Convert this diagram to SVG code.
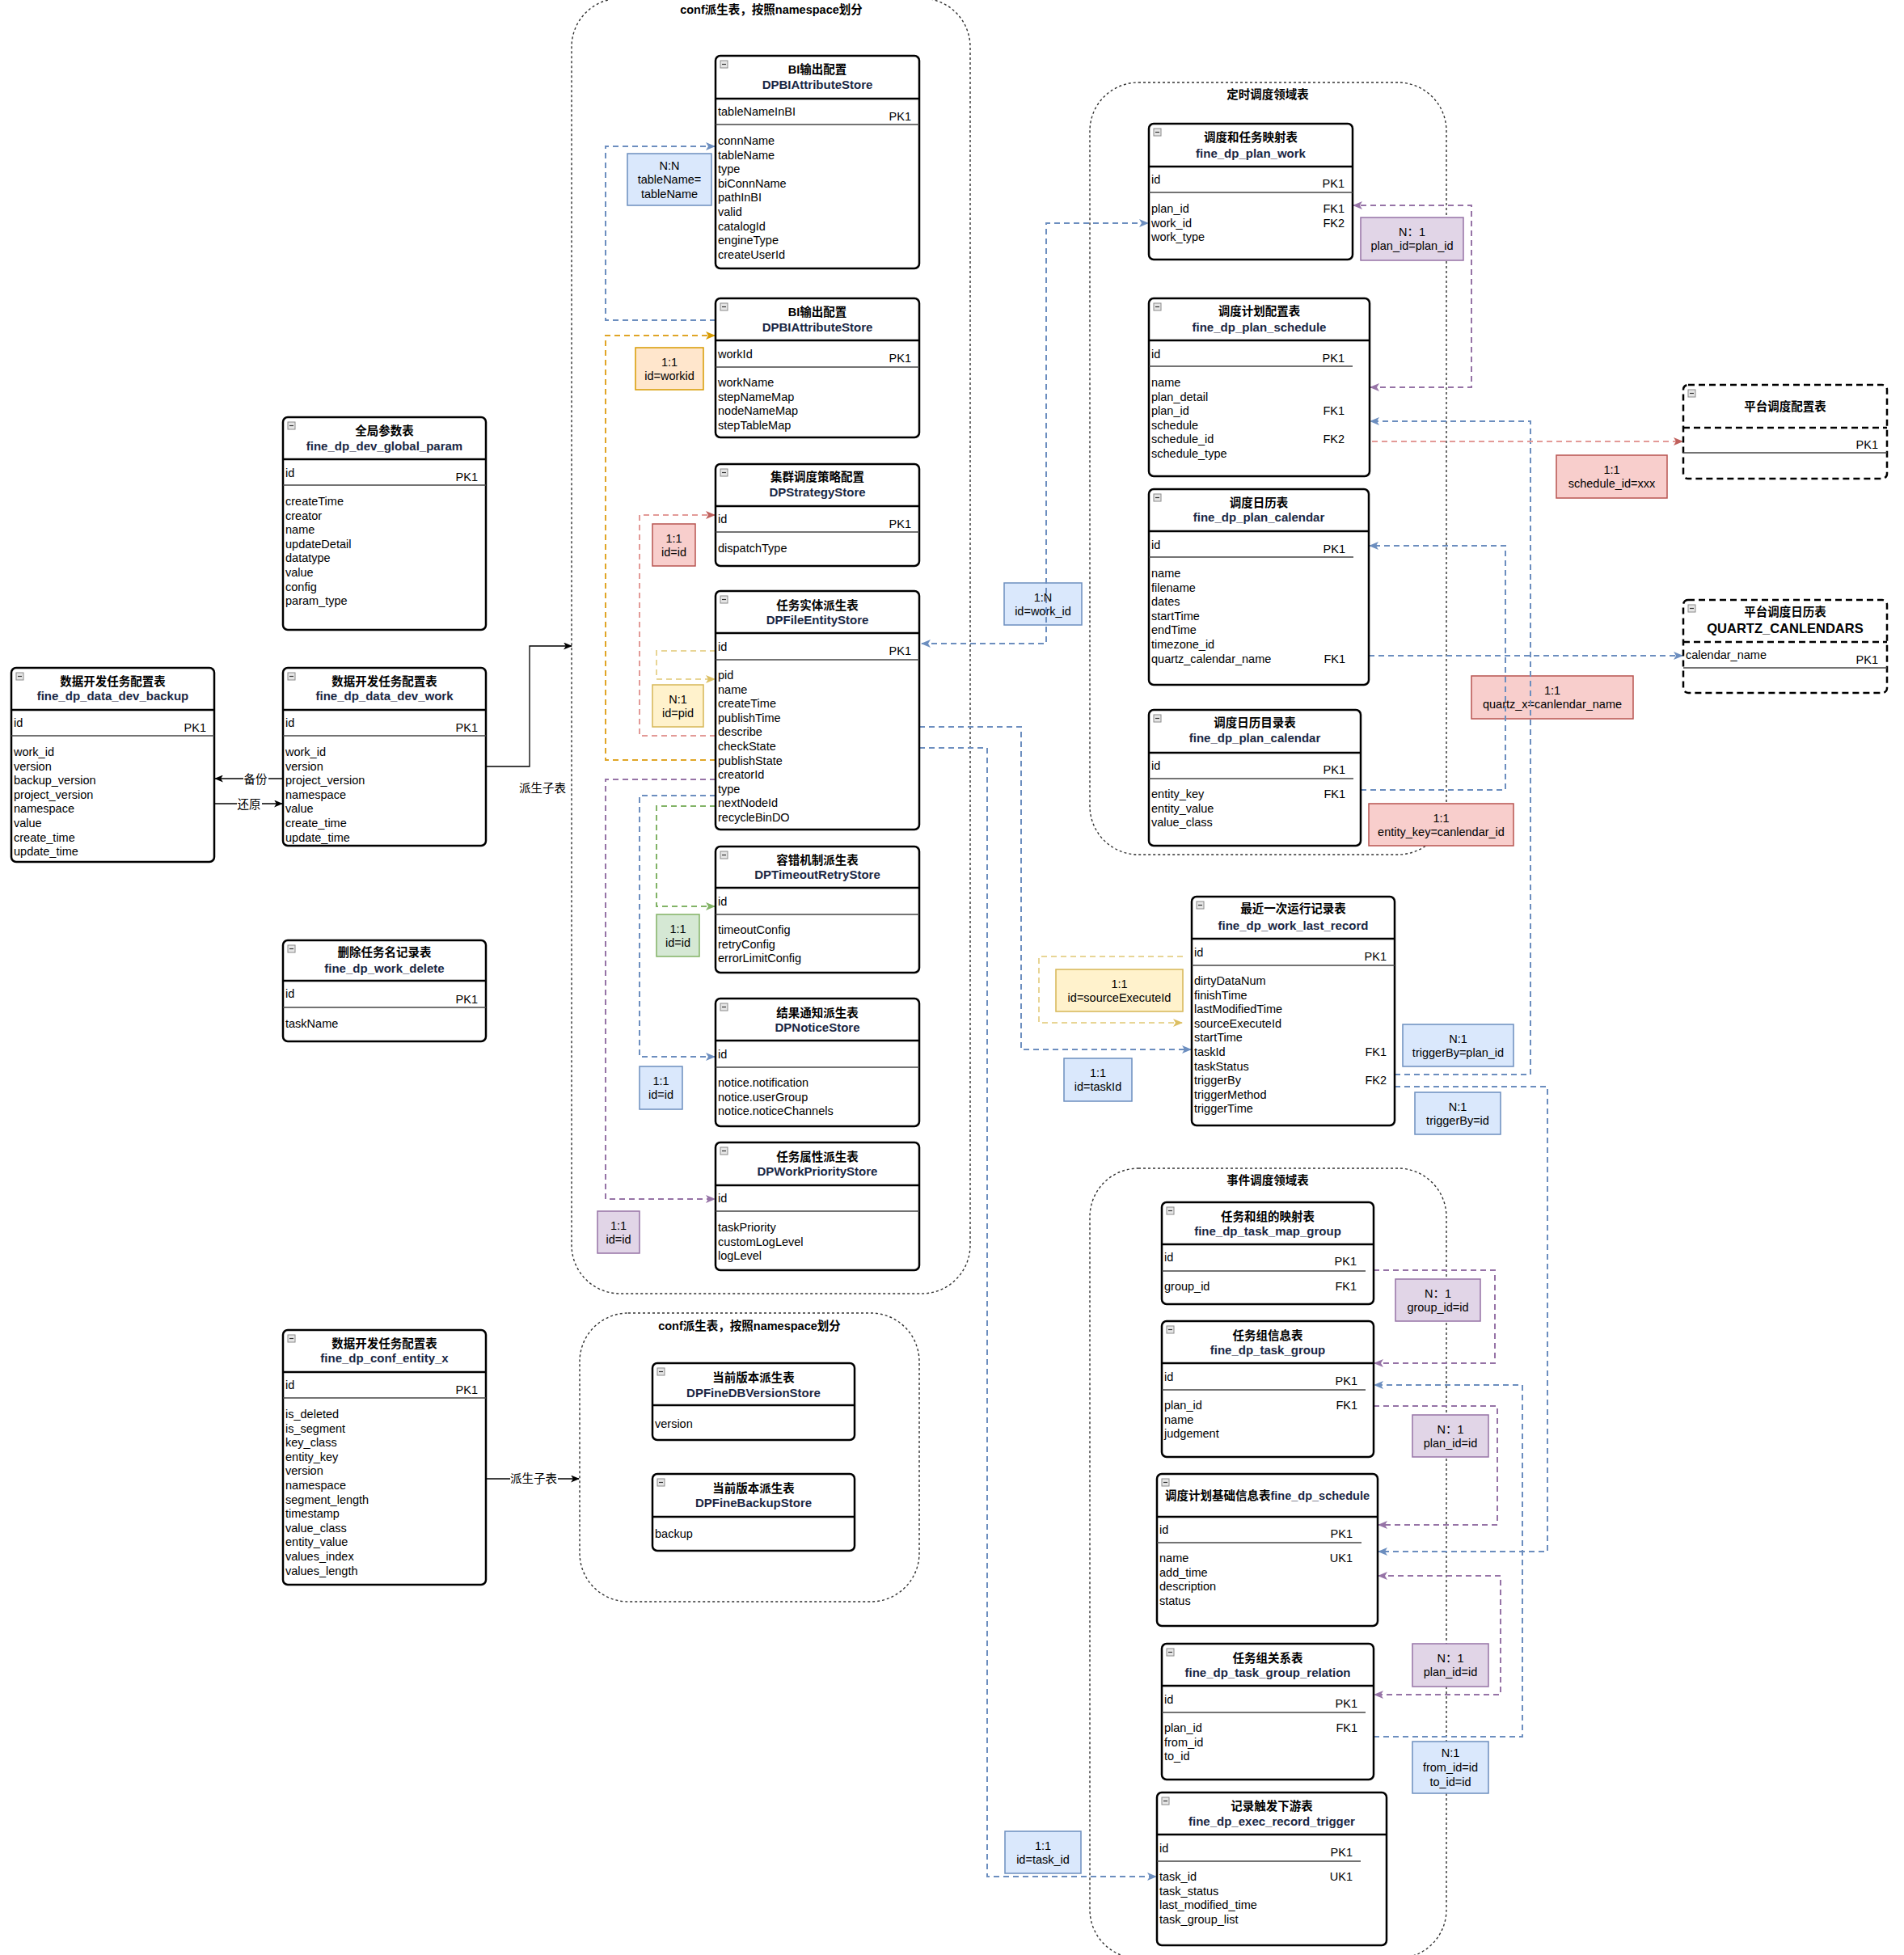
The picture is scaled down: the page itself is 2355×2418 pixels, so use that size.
<svg xmlns="http://www.w3.org/2000/svg" xmlns:xlink="http://www.w3.org/1999/xlink" width="2355" height="2418" viewBox="0 0 2355 2418">
<style>
text{font-family:'Liberation Sans','Noto Sans CJK SC',sans-serif;font-size:14.5px;fill:#000}
.tt{font-weight:bold;text-anchor:middle}
.te{font-weight:bold;text-anchor:middle;fill:#1a2744;font-size:15px}
.k{text-anchor:end}
.c{text-anchor:middle}
.tb{fill:#fff;stroke:#000;stroke-width:2.5}
.tbd{fill:#fff;stroke:#000;stroke-width:2.5;stroke-dasharray:8 5}
.hs{stroke:#000;stroke-width:2.5}
.hsd{stroke:#000;stroke-width:2.5;stroke-dasharray:8 5}
.is{stroke:#444;stroke-width:1.5}
.ct{fill:none;stroke:#333;stroke-width:1.4;stroke-dasharray:3 3}
.e{fill:none;stroke-width:2;stroke-dasharray:7 5}
.eb{stroke:#6c8ebf}.er{stroke:#e39a97}.eo{stroke:#e0a526}.ey{stroke:#e8d595}.ep{stroke:#9673a6}.eg{stroke:#82b366}
.ek{fill:none;stroke:#000;stroke-width:1.3}
.lB{fill:#dae8fc;stroke:#6c8ebf;stroke-width:1.5}
.lR{fill:#f8cecc;stroke:#b85450;stroke-width:1.5}
.lO{fill:#ffe6cc;stroke:#d79b00;stroke-width:1.5}
.lY{fill:#fff2cc;stroke:#d6b656;stroke-width:1.5}
.lP{fill:#e1d5e7;stroke:#9673a6;stroke-width:1.5}
.lG{fill:#d5e8d4;stroke:#82b366;stroke-width:1.5}
.wb{fill:#fff}
</style>
<defs>
<g id="ic"><rect x="0" y="0" width="9" height="9" fill="#e6e6e6" stroke="#8a8a8a" stroke-width="1"/><line x1="2" y1="4.5" x2="7" y2="4.5" stroke="#333" stroke-width="1.2"/></g>
<marker id="aB" viewBox="0 0 12 10" refX="11" refY="5" markerWidth="12" markerHeight="10" markerUnits="userSpaceOnUse" orient="auto-start-reverse"><path d="M0,0 L12,5 L0,10 L3,5 Z" fill="#6c8ebf"/></marker>
<marker id="aR" viewBox="0 0 12 10" refX="11" refY="5" markerWidth="12" markerHeight="10" markerUnits="userSpaceOnUse" orient="auto-start-reverse"><path d="M0,0 L12,5 L0,10 L3,5 Z" fill="#c0605c"/></marker>
<marker id="aO" viewBox="0 0 12 10" refX="11" refY="5" markerWidth="12" markerHeight="10" markerUnits="userSpaceOnUse" orient="auto-start-reverse"><path d="M0,0 L12,5 L0,10 L3,5 Z" fill="#d79b00"/></marker>
<marker id="aY" viewBox="0 0 12 10" refX="11" refY="5" markerWidth="12" markerHeight="10" markerUnits="userSpaceOnUse" orient="auto-start-reverse"><path d="M0,0 L12,5 L0,10 L3,5 Z" fill="#dcbf63"/></marker>
<marker id="aP" viewBox="0 0 12 10" refX="11" refY="5" markerWidth="12" markerHeight="10" markerUnits="userSpaceOnUse" orient="auto-start-reverse"><path d="M0,0 L12,5 L0,10 L3,5 Z" fill="#9673a6"/></marker>
<marker id="aG" viewBox="0 0 12 10" refX="11" refY="5" markerWidth="12" markerHeight="10" markerUnits="userSpaceOnUse" orient="auto-start-reverse"><path d="M0,0 L12,5 L0,10 L3,5 Z" fill="#82b366"/></marker>
<marker id="aK" viewBox="0 0 12 10" refX="11" refY="5" markerWidth="11" markerHeight="9" markerUnits="userSpaceOnUse" orient="auto-start-reverse"><path d="M0,0 L12,5 L0,10 L3,5 Z" fill="#000"/></marker>
</defs>
<rect x="0" y="0" width="2355" height="2418" fill="#fff"/>

<g id="containers">
<rect class="ct" x="707" y="-2" width="493" height="1602" rx="60"/>
<text class="tt" x="954" y="17">conf派生表，按照namespace划分</text>
<rect class="ct" x="717" y="1624" width="420" height="357" rx="60"/>
<text class="tt" x="927" y="1645">conf派生表，按照namespace划分</text>
<rect class="ct" x="1348" y="102" width="441" height="955" rx="60"/>
<text class="tt" x="1568" y="122">定时调度领域表</text>
<rect class="ct" x="1348" y="1445" width="441" height="977" rx="60"/>
<text class="tt" x="1568" y="1465">事件调度领域表</text>
</g>

<g id="labels">
<rect class="lB" x="776" y="190" width="104" height="64"/>
<text class="c" x="828" y="210">N:N</text><text class="c" x="828" y="227">tableName=</text><text class="c" x="828" y="245">tableName</text>
<rect class="lO" x="786" y="430" width="84" height="52"/>
<text class="c" x="828" y="453">1:1</text><text class="c" x="828" y="470">id=workid</text>
<rect class="lR" x="807" y="648" width="53" height="52"/>
<text class="c" x="833.5" y="671">1:1</text><text class="c" x="833.5" y="688">id=id</text>
<rect class="lY" x="807" y="847" width="63" height="52"/>
<text class="c" x="838.5" y="870">N:1</text><text class="c" x="838.5" y="887">id=pid</text>
<rect class="lG" x="812" y="1131" width="53" height="52"/>
<text class="c" x="838.5" y="1154">1:1</text><text class="c" x="838.5" y="1171">id=id</text>
<rect class="lB" x="791" y="1319" width="53" height="53"/>
<text class="c" x="817.5" y="1342">1:1</text><text class="c" x="817.5" y="1359">id=id</text>
<rect class="lP" x="739" y="1498" width="52" height="52"/>
<text class="c" x="765" y="1521">1:1</text><text class="c" x="765" y="1538">id=id</text>
<rect class="lB" x="1242" y="721" width="96" height="52"/>
<text class="c" x="1290" y="744">1:N</text><text class="c" x="1290" y="761">id=work_id</text>
<rect class="lP" x="1683" y="269" width="127" height="53"/>
<text class="c" x="1746.5" y="292">N：1</text><text class="c" x="1746.5" y="309">plan_id=plan_id</text>
<rect class="lR" x="1925" y="563" width="137" height="53"/>
<text class="c" x="1993.5" y="586">1:1</text><text class="c" x="1993.5" y="603">schedule_id=xxx</text>
<rect class="lR" x="1820" y="836" width="200" height="53"/>
<text class="c" x="1920" y="859">1:1</text><text class="c" x="1920" y="876">quartz_x=canlendar_name</text>
<rect class="lR" x="1693" y="994" width="179" height="52"/>
<text class="c" x="1782.5" y="1017">1:1</text><text class="c" x="1782.5" y="1034">entity_key=canlendar_id</text>
<rect class="lY" x="1306" y="1199" width="157" height="52"/>
<text class="c" x="1384.5" y="1222">1:1</text><text class="c" x="1384.5" y="1239">id=sourceExecuteId</text>
<rect class="lB" x="1316" y="1309" width="84" height="53"/>
<text class="c" x="1358" y="1332">1:1</text><text class="c" x="1358" y="1349">id=taskId</text>
<rect class="lB" x="1735" y="1267" width="137" height="52"/>
<text class="c" x="1803.5" y="1290">N:1</text><text class="c" x="1803.5" y="1307">triggerBy=plan_id</text>
<rect class="lB" x="1750" y="1351" width="106" height="52"/>
<text class="c" x="1803" y="1374">N:1</text><text class="c" x="1803" y="1391">triggerBy=id</text>
<rect class="lP" x="1726" y="1582" width="105" height="52"/>
<text class="c" x="1778.5" y="1605">N：1</text><text class="c" x="1778.5" y="1622">group_id=id</text>
<rect class="lP" x="1747" y="1750" width="94" height="52"/>
<text class="c" x="1794" y="1773">N：1</text><text class="c" x="1794" y="1790">plan_id=id</text>
<rect class="lP" x="1747" y="2033" width="94" height="53"/>
<text class="c" x="1794" y="2056">N：1</text><text class="c" x="1794" y="2073">plan_id=id</text>
<rect class="lB" x="1747" y="2154" width="94" height="64"/>
<text class="c" x="1794" y="2173">N:1</text><text class="c" x="1794" y="2191">from_id=id</text><text class="c" x="1794" y="2209">to_id=id</text>
<rect class="lB" x="1243" y="2265" width="94" height="52"/>
<text class="c" x="1290" y="2288">1:1</text><text class="c" x="1290" y="2305">id=task_id</text>
</g>

<g id="connectors">
<path class="e eb" d="M885,396 H749 V181 H884" marker-end="url(#aB)"/>
<path class="e eo" d="M885,940 H749 V415 H884" marker-end="url(#aO)"/>
<path class="e er" d="M885,910 H791 V637 H884" marker-end="url(#aR)"/>
<path class="e ey" d="M885,805 H812 V840 H884" marker-end="url(#aY)"/>
<path class="e ep" d="M885,964 H749 V1483 H884" marker-end="url(#aP)"/>
<path class="e eb" d="M885,984 H791 V1307 H884" marker-end="url(#aB)"/>
<path class="e eg" d="M885,997 H812 V1121 H884" marker-end="url(#aG)"/>
<path class="e eb" d="M1140,796 H1294 V276 H1420" marker-start="url(#aB)" marker-end="url(#aB)"/>
<path class="e eb" d="M1137,899 H1263 V1298 H1473" marker-end="url(#aB)"/>
<path class="e eb" d="M1137,925 H1221 V2321 H1430" marker-end="url(#aB)"/>
<path class="e ep" d="M1695,479 H1820 V254 H1674" marker-start="url(#aP)" marker-end="url(#aP)"/>
<path class="e eb" d="M1725,1329 H1893 V521 H1695" marker-end="url(#aB)"/>
<path class="e er" d="M1673,546 H2081" marker-end="url(#aR)"/>
<path class="e eb" d="M1683,977 H1862 V675 H1694" marker-end="url(#aB)"/>
<path class="e eb" d="M1693,811 H2081" marker-end="url(#aB)"/>
<path class="e ey" d="M1463,1183 H1285 V1265 H1462" marker-end="url(#aY)"/>
<path class="e eb" d="M1725,1344 H1914 V1919 H1705" marker-end="url(#aB)"/>
<path class="e ep" d="M1699,1571 H1849 V1686 H1700" marker-end="url(#aP)"/>
<path class="e eb" d="M1699,2148 H1883 V1713 H1700" marker-end="url(#aB)"/>
<path class="e ep" d="M1699,1739 H1852 V1886 H1705" marker-end="url(#aP)"/>
<path class="e ep" d="M1705,1949 H1856 V2096 H1700" marker-start="url(#aP)" marker-end="url(#aP)"/>
<path class="ek" d="M350,963 H266" marker-end="url(#aK)"/>
<rect class="wb" x="301" y="954" width="31" height="18"/>
<text class="c" x="316" y="969">备份</text>
<path class="ek" d="M265,994 H349" marker-end="url(#aK)"/>
<rect class="wb" x="293" y="985" width="31" height="18"/>
<text class="c" x="308" y="1000">还原</text>
<path class="ek" d="M601,948 H655 V799 H707" marker-end="url(#aK)"/>
<text class="c" x="671" y="980">派生子表</text>
<path class="ek" d="M601,1829 H716" marker-end="url(#aK)"/>
<rect class="wb" x="631" y="1820" width="59" height="18"/>
<text class="c" x="660" y="1834">派生子表</text>
</g>

<g id="t_global_param">
<rect class="tb" x="350" y="516" width="251" height="263" rx="6"/>
<use href="#ic" x="356" y="522"/>
<text class="tt" x="475.5" y="538">全局参数表</text>
<text class="te" x="475.5" y="557">fine_dp_dev_global_param</text>
<line class="hs" x1="350" y1="568" x2="601" y2="568"/>
<text x="353" y="590">id</text><text class="k" x="591" y="595">PK1</text>
<line class="is" x1="350" y1="600" x2="601" y2="600"/>
<text x="353" y="625"><tspan x="353">createTime</tspan><tspan x="353" dy="17.6">creator</tspan><tspan x="353" dy="17.6">name</tspan><tspan x="353" dy="17.6">updateDetail</tspan><tspan x="353" dy="17.6">datatype</tspan><tspan x="353" dy="17.6">value</tspan><tspan x="353" dy="17.6">config</tspan><tspan x="353" dy="17.6">param_type</tspan></text>
</g>

<g id="t_data_dev_work">
<rect class="tb" x="350" y="826" width="251" height="220" rx="6"/>
<use href="#ic" x="356" y="832"/>
<text class="tt" x="475.5" y="848">数据开发任务配置表</text>
<text class="te" x="475.5" y="866">fine_dp_data_dev_work</text>
<line class="hs" x1="350" y1="878" x2="601" y2="878"/>
<text x="353" y="899">id</text><text class="k" x="591" y="905">PK1</text>
<line class="is" x1="350" y1="910" x2="601" y2="910"/>
<text x="353" y="935"><tspan x="353">work_id</tspan><tspan x="353" dy="17.6">version</tspan><tspan x="353" dy="17.6">project_version</tspan><tspan x="353" dy="17.6">namespace</tspan><tspan x="353" dy="17.6">value</tspan><tspan x="353" dy="17.6">create_time</tspan><tspan x="353" dy="17.6">update_time</tspan></text>
</g>

<g id="t_data_dev_backup">
<rect class="tb" x="14" y="826" width="251" height="240" rx="6"/>
<use href="#ic" x="20" y="832"/>
<text class="tt" x="139.5" y="848">数据开发任务配置表</text>
<text class="te" x="139.5" y="866">fine_dp_data_dev_backup</text>
<line class="hs" x1="14" y1="878" x2="265" y2="878"/>
<text x="17" y="899">id</text><text class="k" x="255" y="905">PK1</text>
<line class="is" x1="14" y1="910" x2="265" y2="910"/>
<text x="17" y="935"><tspan x="17">work_id</tspan><tspan x="17" dy="17.6">version</tspan><tspan x="17" dy="17.6">backup_version</tspan><tspan x="17" dy="17.6">project_version</tspan><tspan x="17" dy="17.6">namespace</tspan><tspan x="17" dy="17.6">value</tspan><tspan x="17" dy="17.6">create_time</tspan><tspan x="17" dy="17.6">update_time</tspan></text>
</g>

<g id="t_work_delete">
<rect class="tb" x="350" y="1163" width="251" height="125" rx="6"/>
<use href="#ic" x="356" y="1169"/>
<text class="tt" x="475.5" y="1183">删除任务名记录表</text>
<text class="te" x="475.5" y="1203">fine_dp_work_delete</text>
<line class="hs" x1="350" y1="1213" x2="601" y2="1213"/>
<text x="353" y="1234">id</text><text class="k" x="591" y="1241">PK1</text>
<line class="is" x1="350" y1="1246" x2="601" y2="1246"/>
<text x="353" y="1271">taskName</text>
</g>

<g id="t_conf_entity_x">
<rect class="tb" x="350" y="1645" width="251" height="315" rx="6"/>
<use href="#ic" x="356" y="1651"/>
<text class="tt" x="475.5" y="1667">数据开发任务配置表</text>
<text class="te" x="475.5" y="1685">fine_dp_conf_entity_x</text>
<line class="hs" x1="350" y1="1697" x2="601" y2="1697"/>
<text x="353" y="1718">id</text><text class="k" x="591" y="1724">PK1</text>
<line class="is" x1="350" y1="1729" x2="601" y2="1729"/>
<text x="353" y="1754"><tspan x="353">is_deleted</tspan><tspan x="353" dy="17.6">is_segment</tspan><tspan x="353" dy="17.6">key_class</tspan><tspan x="353" dy="17.6">entity_key</tspan><tspan x="353" dy="17.6">version</tspan><tspan x="353" dy="17.6">namespace</tspan><tspan x="353" dy="17.6">segment_length</tspan><tspan x="353" dy="17.6">timestamp</tspan><tspan x="353" dy="17.6">value_class</tspan><tspan x="353" dy="17.6">entity_value</tspan><tspan x="353" dy="17.6">values_index</tspan><tspan x="353" dy="17.6">values_length</tspan></text>
</g>

<g id="t_bi_attr_1">
<rect class="tb" x="885" y="69" width="252" height="263" rx="6"/>
<use href="#ic" x="891" y="75"/>
<text class="tt" x="1011" y="91">BI输出配置</text>
<text class="te" x="1011" y="110">DPBIAttributeStore</text>
<line class="hs" x1="885" y1="122" x2="1137" y2="122"/>
<text x="888" y="143">tableNameInBI</text><text class="k" x="1127" y="149">PK1</text>
<line class="is" x1="885" y1="154" x2="1137" y2="154"/>
<text x="888" y="179"><tspan x="888">connName</tspan><tspan x="888" dy="17.6">tableName</tspan><tspan x="888" dy="17.6">type</tspan><tspan x="888" dy="17.6">biConnName</tspan><tspan x="888" dy="17.6">pathInBI</tspan><tspan x="888" dy="17.6">valid</tspan><tspan x="888" dy="17.6">catalogId</tspan><tspan x="888" dy="17.6">engineType</tspan><tspan x="888" dy="17.6">createUserId</tspan></text>
</g>

<g id="t_bi_attr_2">
<rect class="tb" x="885" y="369" width="252" height="172" rx="6"/>
<use href="#ic" x="891" y="375"/>
<text class="tt" x="1011" y="391">BI输出配置</text>
<text class="te" x="1011" y="410">DPBIAttributeStore</text>
<line class="hs" x1="885" y1="421" x2="1137" y2="421"/>
<text x="888" y="443">workId</text><text class="k" x="1127" y="448">PK1</text>
<line class="is" x1="885" y1="454" x2="1137" y2="454"/>
<text x="888" y="478"><tspan x="888">workName</tspan><tspan x="888" dy="17.6">stepNameMap</tspan><tspan x="888" dy="17.6">nodeNameMap</tspan><tspan x="888" dy="17.6">stepTableMap</tspan></text>
</g>

<g id="t_strategy">
<rect class="tb" x="885" y="574" width="252" height="126" rx="6"/>
<use href="#ic" x="891" y="580"/>
<text class="tt" x="1011" y="595">集群调度策略配置</text>
<text class="te" x="1011" y="614">DPStrategyStore</text>
<line class="hs" x1="885" y1="626" x2="1137" y2="626"/>
<text x="888" y="647">id</text><text class="k" x="1127" y="653">PK1</text>
<line class="is" x1="885" y1="658" x2="1137" y2="658"/>
<text x="888" y="683">dispatchType</text>
</g>

<g id="t_file_entity">
<rect class="tb" x="885" y="731" width="252" height="295" rx="6"/>
<use href="#ic" x="891" y="737"/>
<text class="tt" x="1011" y="754">任务实体派生表</text>
<text class="te" x="1011" y="772">DPFileEntityStore</text>
<line class="hs" x1="885" y1="783" x2="1137" y2="783"/>
<text x="888" y="805">id</text><text class="k" x="1127" y="810">PK1</text>
<line class="is" x1="885" y1="816" x2="1137" y2="816"/>
<text x="888" y="840"><tspan x="888">pid</tspan><tspan x="888" dy="17.6">name</tspan><tspan x="888" dy="17.6">createTime</tspan><tspan x="888" dy="17.6">publishTime</tspan><tspan x="888" dy="17.6">describe</tspan><tspan x="888" dy="17.6">checkState</tspan><tspan x="888" dy="17.6">publishState</tspan><tspan x="888" dy="17.6">creatorId</tspan><tspan x="888" dy="17.6">type</tspan><tspan x="888" dy="17.6">nextNodeId</tspan><tspan x="888" dy="17.6">recycleBinDO</tspan></text>
</g>

<g id="t_timeout_retry">
<rect class="tb" x="885" y="1047" width="252" height="156" rx="6"/>
<use href="#ic" x="891" y="1053"/>
<text class="tt" x="1011" y="1069">容错机制派生表</text>
<text class="te" x="1011" y="1087">DPTimeoutRetryStore</text>
<line class="hs" x1="885" y1="1098" x2="1137" y2="1098"/>
<text x="888" y="1120">id</text>
<line class="is" x1="885" y1="1131" x2="1137" y2="1131"/>
<text x="888" y="1155"><tspan x="888">timeoutConfig</tspan><tspan x="888" dy="17.6">retryConfig</tspan><tspan x="888" dy="17.6">errorLimitConfig</tspan></text>
</g>

<g id="t_notice">
<rect class="tb" x="885" y="1235" width="252" height="158" rx="6"/>
<use href="#ic" x="891" y="1241"/>
<text class="tt" x="1011" y="1258">结果通知派生表</text>
<text class="te" x="1011" y="1276">DPNoticeStore</text>
<line class="hs" x1="885" y1="1287" x2="1137" y2="1287"/>
<text x="888" y="1309">id</text>
<line class="is" x1="885" y1="1320" x2="1137" y2="1320"/>
<text x="888" y="1344"><tspan x="888">notice.notification</tspan><tspan x="888" dy="17.6">notice.userGroup</tspan><tspan x="888" dy="17.6">notice.noticeChannels</tspan></text>
</g>

<g id="t_work_priority">
<rect class="tb" x="885" y="1413" width="252" height="158" rx="6"/>
<use href="#ic" x="891" y="1419"/>
<text class="tt" x="1011" y="1436">任务属性派生表</text>
<text class="te" x="1011" y="1454">DPWorkPriorityStore</text>
<line class="hs" x1="885" y1="1466" x2="1137" y2="1466"/>
<text x="888" y="1487">id</text>
<line class="is" x1="885" y1="1498" x2="1137" y2="1498"/>
<text x="888" y="1523"><tspan x="888">taskPriority</tspan><tspan x="888" dy="17.6">customLogLevel</tspan><tspan x="888" dy="17.6">logLevel</tspan></text>
</g>

<g id="t_fine_db_version">
<rect class="tb" x="807" y="1686" width="250" height="95" rx="6"/>
<use href="#ic" x="813" y="1692"/>
<text class="tt" x="932" y="1709">当前版本派生表</text>
<text class="te" x="932" y="1728">DPFineDBVersionStore</text>
<line class="hs" x1="807" y1="1738" x2="1057" y2="1738"/>
<text x="810" y="1766">version</text>
</g>

<g id="t_fine_backup">
<rect class="tb" x="807" y="1823" width="250" height="95" rx="6"/>
<use href="#ic" x="813" y="1829"/>
<text class="tt" x="932" y="1846">当前版本派生表</text>
<text class="te" x="932" y="1864">DPFineBackupStore</text>
<line class="hs" x1="807" y1="1876" x2="1057" y2="1876"/>
<text x="810" y="1902">backup</text>
</g>

<g id="t_plan_work">
<rect class="tb" x="1421" y="153" width="252" height="168" rx="6"/>
<use href="#ic" x="1427" y="159"/>
<text class="tt" x="1547" y="175">调度和任务映射表</text>
<text class="te" x="1547" y="195">fine_dp_plan_work</text>
<line class="hs" x1="1421" y1="206" x2="1673" y2="206"/>
<text x="1424" y="227">id</text><text class="k" x="1663" y="232">PK1</text>
<line class="is" x1="1421" y1="238" x2="1673" y2="238"/>
<text x="1424" y="263"><tspan x="1424">plan_id</tspan><tspan x="1424" dy="17.6">work_id</tspan><tspan x="1424" dy="17.6">work_type</tspan></text>
<text class="k" x="1663" y="263"><tspan x="1663">FK1</tspan><tspan x="1663" dy="17.6">FK2</tspan></text>
</g>

<g id="t_plan_schedule">
<rect class="tb" x="1421" y="369" width="273" height="220" rx="6"/>
<use href="#ic" x="1427" y="375"/>
<text class="tt" x="1557.5" y="390">调度计划配置表</text>
<text class="te" x="1557.5" y="410">fine_dp_plan_schedule</text>
<line class="hs" x1="1421" y1="421" x2="1694" y2="421"/>
<text x="1424" y="443">id</text><text class="k" x="1663" y="448">PK1</text>
<line class="is" x1="1421" y1="453" x2="1673" y2="453"/>
<text x="1424" y="478"><tspan x="1424">name</tspan><tspan x="1424" dy="17.6">plan_detail</tspan><tspan x="1424" dy="17.6">plan_id</tspan><tspan x="1424" dy="17.6">schedule</tspan><tspan x="1424" dy="17.6">schedule_id</tspan><tspan x="1424" dy="17.6">schedule_type</tspan></text>
<text class="k" x="1663" y="513.2">FK1</text><text class="k" x="1663" y="548.4">FK2</text>
</g>

<g id="t_plan_calendar">
<rect class="tb" x="1421" y="605" width="272" height="242" rx="6"/>
<use href="#ic" x="1427" y="611"/>
<text class="tt" x="1557" y="627">调度日历表</text>
<text class="te" x="1557" y="645">fine_dp_plan_calendar</text>
<line class="hs" x1="1421" y1="657" x2="1693" y2="657"/>
<text x="1424" y="679">id</text><text class="k" x="1664" y="684">PK1</text>
<line class="is" x1="1421" y1="689" x2="1674" y2="689"/>
<text x="1424" y="714"><tspan x="1424">name</tspan><tspan x="1424" dy="17.6">filename</tspan><tspan x="1424" dy="17.6">dates</tspan><tspan x="1424" dy="17.6">startTime</tspan><tspan x="1424" dy="17.6">endTime</tspan><tspan x="1424" dy="17.6">timezone_id</tspan><tspan x="1424" dy="17.6">quartz_calendar_name</tspan></text>
<text class="k" x="1664" y="819.6">FK1</text>
</g>

<g id="t_plan_calendar_dir">
<rect class="tb" x="1421" y="878" width="262" height="168" rx="6"/>
<use href="#ic" x="1427" y="884"/>
<text class="tt" x="1552" y="899">调度日历目录表</text>
<text class="te" x="1552" y="918">fine_dp_plan_calendar</text>
<line class="hs" x1="1421" y1="931" x2="1683" y2="931"/>
<text x="1424" y="952">id</text><text class="k" x="1664" y="957">PK1</text>
<line class="is" x1="1421" y1="963" x2="1674" y2="963"/>
<text x="1424" y="987"><tspan x="1424">entity_key</tspan><tspan x="1424" dy="17.6">entity_value</tspan><tspan x="1424" dy="17.6">value_class</tspan></text>
<text class="k" x="1664" y="987">FK1</text>
</g>

<g id="t_platform_schedule">
<rect class="tbd" x="2082" y="476" width="252" height="116" rx="6"/>
<use href="#ic" x="2088" y="482"/>
<text class="tt" x="2208" y="508">平台调度配置表</text>
<line class="hsd" x1="2082" y1="529" x2="2334" y2="529"/>
<text class="k" x="2323" y="555">PK1</text>
<line class="is" x1="2082" y1="560" x2="2334" y2="560"/>
</g>

<g id="t_quartz_calendars">
<rect class="tbd" x="2082" y="742" width="252" height="115" rx="6"/>
<use href="#ic" x="2088" y="748"/>
<text class="tt" x="2208" y="762">平台调度日历表</text>
<text class="tt" x="2208" y="783" style="font-size:16.5px">QUARTZ_CANLENDARS</text>
<line class="hsd" x1="2082" y1="794" x2="2334" y2="794"/>
<text x="2085" y="815">calendar_name</text><text class="k" x="2323" y="821">PK1</text>
<line class="is" x1="2082" y1="826" x2="2334" y2="826"/>
</g>

<g id="t_work_last_record">
<rect class="tb" x="1474" y="1109" width="251" height="283" rx="6"/>
<use href="#ic" x="1480" y="1115"/>
<text class="tt" x="1599.5" y="1129">最近一次运行记录表</text>
<text class="te" x="1599.5" y="1150">fine_dp_work_last_record</text>
<line class="hs" x1="1474" y1="1161" x2="1725" y2="1161"/>
<text x="1477" y="1183">id</text><text class="k" x="1715" y="1188">PK1</text>
<line class="is" x1="1474" y1="1194" x2="1725" y2="1194"/>
<text x="1477" y="1218"><tspan x="1477">dirtyDataNum</tspan><tspan x="1477" dy="17.6">finishTime</tspan><tspan x="1477" dy="17.6">lastModifiedTime</tspan><tspan x="1477" dy="17.6">sourceExecuteId</tspan><tspan x="1477" dy="17.6">startTime</tspan><tspan x="1477" dy="17.6">taskId</tspan><tspan x="1477" dy="17.6">taskStatus</tspan><tspan x="1477" dy="17.6">triggerBy</tspan><tspan x="1477" dy="17.6">triggerMethod</tspan><tspan x="1477" dy="17.6">triggerTime</tspan></text>
<text class="k" x="1715" y="1306">FK1</text><text class="k" x="1715" y="1341.2">FK2</text>
</g>

<g id="t_task_map_group">
<rect class="tb" x="1437" y="1487" width="262" height="126" rx="6"/>
<use href="#ic" x="1443" y="1493"/>
<text class="tt" x="1568" y="1510">任务和组的映射表</text>
<text class="te" x="1568" y="1528">fine_dp_task_map_group</text>
<line class="hs" x1="1437" y1="1539" x2="1699" y2="1539"/>
<text x="1440" y="1560">id</text><text class="k" x="1678" y="1565">PK1</text>
<line class="is" x1="1437" y1="1572" x2="1689" y2="1572"/>
<text x="1440" y="1596">group_id</text><text class="k" x="1678" y="1596">FK1</text>
</g>

<g id="t_task_group">
<rect class="tb" x="1437" y="1634" width="262" height="168" rx="6"/>
<use href="#ic" x="1443" y="1640"/>
<text class="tt" x="1568" y="1657">任务组信息表</text>
<text class="te" x="1568" y="1675">fine_dp_task_group</text>
<line class="hs" x1="1437" y1="1686" x2="1699" y2="1686"/>
<text x="1440" y="1708">id</text><text class="k" x="1679" y="1713">PK1</text>
<line class="is" x1="1437" y1="1719" x2="1689" y2="1719"/>
<text x="1440" y="1743"><tspan x="1440">plan_id</tspan><tspan x="1440" dy="17.6">name</tspan><tspan x="1440" dy="17.6">judgement</tspan></text>
<text class="k" x="1679" y="1743">FK1</text>
</g>

<g id="t_schedule">
<rect class="tb" x="1431" y="1823" width="273" height="188" rx="6"/>
<use href="#ic" x="1437" y="1829"/>
<text class="tt" x="1567.5" y="1855">调度计划基础信息表<tspan style="fill:#1a2744">fine_dp_schedule</tspan></text>
<line class="hs" x1="1431" y1="1876" x2="1704" y2="1876"/>
<text x="1434" y="1897">id</text><text class="k" x="1673" y="1902">PK1</text>
<line class="is" x1="1431" y1="1908" x2="1684" y2="1908"/>
<text x="1434" y="1932"><tspan x="1434">name</tspan><tspan x="1434" dy="17.6">add_time</tspan><tspan x="1434" dy="17.6">description</tspan><tspan x="1434" dy="17.6">status</tspan></text>
<text class="k" x="1673" y="1932">UK1</text>
</g>

<g id="t_task_group_relation">
<rect class="tb" x="1437" y="2033" width="262" height="168" rx="6"/>
<use href="#ic" x="1443" y="2039"/>
<text class="tt" x="1568" y="2056">任务组关系表</text>
<text class="te" x="1568" y="2074">fine_dp_task_group_relation</text>
<line class="hs" x1="1437" y1="2085" x2="1699" y2="2085"/>
<text x="1440" y="2107">id</text><text class="k" x="1679" y="2112">PK1</text>
<line class="is" x1="1437" y1="2118" x2="1689" y2="2118"/>
<text x="1440" y="2142"><tspan x="1440">plan_id</tspan><tspan x="1440" dy="17.6">from_id</tspan><tspan x="1440" dy="17.6">to_id</tspan></text>
<text class="k" x="1679" y="2142">FK1</text>
</g>

<g id="t_exec_record_trigger">
<rect class="tb" x="1431" y="2217" width="284" height="189" rx="6"/>
<use href="#ic" x="1437" y="2223"/>
<text class="tt" x="1573" y="2239">记录触发下游表</text>
<text class="te" x="1573" y="2258">fine_dp_exec_record_trigger</text>
<line class="hs" x1="1431" y1="2269" x2="1715" y2="2269"/>
<text x="1434" y="2291">id</text><text class="k" x="1673" y="2296">PK1</text>
<line class="is" x1="1431" y1="2302" x2="1683" y2="2302"/>
<text x="1434" y="2326"><tspan x="1434">task_id</tspan><tspan x="1434" dy="17.6">task_status</tspan><tspan x="1434" dy="17.6">last_modified_time</tspan><tspan x="1434" dy="17.6">task_group_list</tspan></text>
<text class="k" x="1673" y="2326">UK1</text>
</g>
</svg>
